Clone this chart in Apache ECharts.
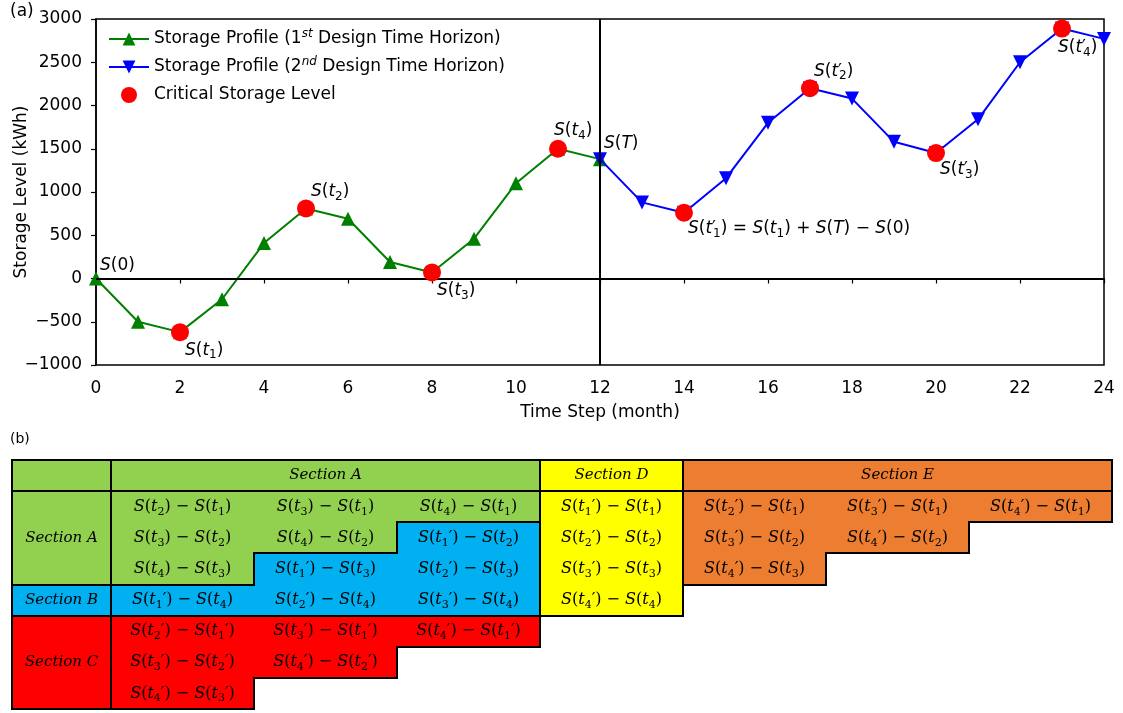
<!DOCTYPE html>
<html>
<head>
<meta charset="utf-8">
<script src="https://cdn.jsdelivr.net/npm/echarts@6/dist/echarts.min.js"></script>
<style>
  html, body { margin: 0; padding: 0; background: #fff; }
  #chart { width: 1123px; height: 713px; }
</style>
</head>
<body>
<div id="chart"></div>
<script>
// ---- (a) storage profile data ----
const months1 = [0, 1, 2, 3, 4, 5, 6, 7, 8, 9, 10, 11, 12];
const storage1 = [0, -500, -620, -240, 410, 810, 690, 190, 70, 460, 1100, 1500, 1380];
const months2 = [12, 13, 14, 15, 16, 17, 18, 19, 20, 21, 22, 23, 24];
const storage2 = [1380, 880, 760, 1160, 1800, 2200, 2080, 1580, 1450, 1840, 2500, 2890, 2770];

const criticalMonths = [2, 5, 8, 11, 14, 17, 20, 23];
// "^" marks a prime stacked over the following subscript
const criticalLabels = ['S(t_1)', 'S(t_2)', 'S(t_3)', 'S(t_4)',
  'S(t^_1) = S(t_1) + S(T) − S(0)', 'S(t^_2)', 'S(t^_3)', 'S(t^_4)'];
const boundaryMonths = [0, 12];
const boundaryLabels = ['S(0)', 'S(T)'];

const seriesNames = ['Storage Profile (1st Design Time Horizon)',
  'Storage Profile (2nd Design Time Horizon)', 'Critical Storage Level'];
const xTicks = [0, 2, 4, 6, 8, 10, 12, 14, 16, 18, 20, 22, 24];

// ---- (b) difference table ----
// column 0 is the row-label column, columns 1..7 hold the differences
const tableRegions = [
  ['hc', 'hA', 'hA', 'hA', 'hD', 'hE', 'hE', 'hE'],
  ['lA', 'A', 'A', 'A', 'D', 'E', 'E', 'E'],
  ['lA', 'A', 'A', 'B', 'D', 'E', 'E', null],
  ['lA', 'A', 'B', 'B', 'D', 'E', null, null],
  ['lB', 'B', 'B', 'B', 'D', null, null, null],
  ['lC', 'C', 'C', 'C', null, null, null, null],
  ['lC', 'C', 'C', null, null, null, null, null],
  ['lC', 'C', null, null, null, null, null, null]
];
const tableText = [
  [null, null, null, null, null, null, null, null],
  [null, 'S(t_2) − S(t_1)', 'S(t_3) − S(t_1)', 'S(t_4) − S(t_1)', 'S(t_1′) − S(t_1)', 'S(t_2′) − S(t_1)', 'S(t_3′) − S(t_1)', 'S(t_4′) − S(t_1)'],
  [null, 'S(t_3) − S(t_2)', 'S(t_4) − S(t_2)', 'S(t_1′) − S(t_2)', 'S(t_2′) − S(t_2)', 'S(t_3′) − S(t_2)', 'S(t_4′) − S(t_2)', null],
  [null, 'S(t_4) − S(t_3)', 'S(t_1′) − S(t_3)', 'S(t_2′) − S(t_3)', 'S(t_3′) − S(t_3)', 'S(t_4′) − S(t_3)', null, null],
  [null, 'S(t_1′) − S(t_4)', 'S(t_2′) − S(t_4)', 'S(t_3′) − S(t_4)', 'S(t_4′) − S(t_4)', null, null, null],
  [null, 'S(t_2′) − S(t_1′)', 'S(t_3′) − S(t_1′)', 'S(t_4′) − S(t_1′)', null, null, null, null],
  [null, 'S(t_3′) − S(t_2′)', 'S(t_4′) − S(t_2′)', null, null, null, null, null],
  [null, 'S(t_4′) − S(t_3′)', null, null, null, null, null, null]
];
const regionTitles = { hA: 'Section A', hD: 'Section D', hE: 'Section E',
  lA: 'Section A', lB: 'Section B', lC: 'Section C' };

// ---- styling ----
const GREEN = '#92d050', BLUE = '#00b0f0', RED = '#ff0000', YELLOW = '#ffff00', ORANGE = '#ed7d31';
const regionColors = { hc: GREEN, hA: GREEN, lA: GREEN, A: GREEN, hD: YELLOW, D: YELLOW,
  hE: ORANGE, E: ORANGE, lB: BLUE, B: BLUE, lC: RED, C: RED };
const labelColWidth = 99 / 143;   // label column width relative to a data column

const SANS = 'DejaVu Sans';
const SERIF = 'DejaVu Serif';

// convert "S(t_1′)" notation into rich-text tokens: letters italic, _x subscript,
// "^" a zero-advance prime so the next subscript sits beneath it
function mathRich(str) {
  const toks = [];
  const push = (style, ch) => {
    const last = toks[toks.length - 1];
    if (last && last.style === style && style !== 'pr') last.text += ch; else toks.push({ style, text: ch });
  };
  for (let i = 0; i < str.length; i++) {
    const ch = str[i];
    if (ch === '_' && i + 1 < str.length) { push('sub', str[i + 1]); i++; }
    else if (ch === '^') push('pr', '′');
    else if (/[A-Za-z]/.test(ch)) push('it', ch);
    else push('n', ch);
  }
  return toks.map(t => '{' + t.style + '|' + t.text + '}').join('');
}

const chartRich = {
  it: { fontFamily: SANS, fontStyle: 'italic', fontSize: 17, lineHeight: 22, color: '#000' },
  n: { fontFamily: SANS, fontSize: 17, lineHeight: 22, color: '#000' },
  pr: { fontFamily: SANS, fontSize: 17, lineHeight: 22, color: '#000', width: 1 },
  sub: { fontFamily: SANS, fontSize: 12, lineHeight: 12, verticalAlign: 'bottom', color: '#000' }
};
const tableRich = {
  it: { fontFamily: SERIF, fontStyle: 'italic', fontSize: 16, lineHeight: 21, color: '#000' },
  n: { fontFamily: SERIF, fontSize: 16, lineHeight: 21, color: '#000' },
  sub: { fontFamily: SERIF, fontSize: 11, lineHeight: 11, verticalAlign: 'bottom', color: '#000' }
};

// label offsets (px) relative to the marker centre
const criticalOffsets = [[5, 18], [5, -17], [5, 18], [-4, -18], [4, 16], [4, -17], [4, 17], [-4, 19]];
const boundaryOffsets = [[4, -13], [4, -16]];

const valueAt = (m) => {
  const i1 = months1.indexOf(m);
  if (i1 >= 0) return storage1[i1];
  return storage2[months2.indexOf(m)];
};

const criticalData = criticalMonths.map((m, i) => ({
  value: [m, valueAt(m)],
  label: { formatter: mathRich(criticalLabels[i]), offset: criticalOffsets[i] }
}));
const boundaryData = boundaryMonths.map((m, i) => ({
  value: [m, valueAt(m)],
  label: { formatter: mathRich(boundaryLabels[i]), offset: boundaryOffsets[i] }
}));

// ---- table cells ----
const cells = [];
tableRegions.forEach((row, r) => row.forEach((reg, c) => { if (reg) cells.push({ c, r, reg }); }));
const regAt = (c, r) => (tableRegions[r] && tableRegions[r][c]) || null;
const colSpan = (c) => c === 0 ? [-labelColWidth, 0] : [c - 1, c];

function cellBox(api, c, r) {
  const [x0, x1] = colSpan(c);
  const p0 = api.coord([x0, r]);
  const p1 = api.coord([x1, r + 1]);
  return { x0: Math.round(p0[0]), y0: Math.round(p0[1]), x1: Math.round(p1[0]), y1: Math.round(p1[1]) };
}

// text items: individual cells and merged region titles
const textItems = [];
tableText.forEach((row, r) => row.forEach((t, c) => {
  if (t) { const [x0, x1] = colSpan(c); textItems.push({ x: (x0 + x1) / 2, y: r + 0.5, text: mathRich(t), title: false }); }
}));
Object.keys(regionTitles).forEach(reg => {
  let xmin = Infinity, xmax = -Infinity, ymin = Infinity, ymax = -Infinity;
  cells.filter(cl => cl.reg === reg).forEach(cl => {
    const [x0, x1] = colSpan(cl.c);
    xmin = Math.min(xmin, x0); xmax = Math.max(xmax, x1);
    ymin = Math.min(ymin, cl.r); ymax = Math.max(ymax, cl.r + 1);
  });
  textItems.push({ x: (xmin + xmax) / 2, y: (ymin + ymax) / 2, text: regionTitles[reg], title: true });
});

const chart = echarts.init(document.getElementById('chart'));

const option = {
  animation: false,
  backgroundColor: '#fff',
  graphic: [
    { type: 'text', left: 10, top: 3, style: { text: '(a)', font: '17px "DejaVu Sans"', fill: '#000' } },
    { type: 'text', left: 10, top: 432, style: { text: '(b)', font: '14px "DejaVu Sans"', fill: '#000' } }
  ],
  legend: {
    data: seriesNames,
    orient: 'vertical',
    left: 103,
    top: 23,
    itemWidth: 40,
    itemHeight: 16,
    itemGap: 6,
    textStyle: {
      fontFamily: SANS, fontSize: 17, color: '#000', lineHeight: 22,
      rich: { sup: { fontFamily: SANS, fontStyle: 'italic', fontSize: 12, lineHeight: 12, verticalAlign: 'top', color: '#000' } }
    },
    formatter: (name) => name.replace(/(\d)(st|nd)/, '$1{sup|$2}')
  },
  grid: [
    { left: 96, right: 19, top: 19, height: 346, show: true, borderColor: '#000', borderWidth: 1.5,
      containLabel: false, outerBoundsMode: 'none' },
    { left: 12, top: 460, width: 1100, height: 249, show: false, containLabel: false, outerBoundsMode: 'none' }
  ],
  xAxis: [
    {
      type: 'value', gridIndex: 0, min: 0, max: 24, interval: 2,
      name: 'Time Step (month)', nameLocation: 'middle', nameGap: 39, nameMoveOverlap: false,
      nameTextStyle: { fontFamily: SANS, fontSize: 17, color: '#000' },
      axisLine: { lineStyle: { color: '#000', width: 1.5 } },
      axisTick: { show: true, inside: false, length: 5, lineStyle: { color: '#000', width: 1.2 } },
      axisLabel: { fontFamily: SANS, fontSize: 17, color: '#000', margin: 15,
        customValues: xTicks },
      splitLine: { show: false }
    },
    { type: 'value', gridIndex: 1, min: -labelColWidth, max: 7, show: false }
  ],
  yAxis: [
    {
      type: 'value', gridIndex: 0, min: -1000, max: 3000, interval: 500,
      name: 'Storage Level (kWh)', nameLocation: 'middle', nameGap: 66, nameMoveOverlap: false,
      nameTextStyle: { fontFamily: SANS, fontSize: 17, color: '#000' },
      axisLine: { show: true, lineStyle: { color: '#000', width: 1.5 } },
      axisTick: { show: true, inside: false, length: 5, lineStyle: { color: '#000', width: 1.2 } },
      axisLabel: { fontFamily: SANS, fontSize: 17, color: '#000', margin: 14,
        formatter: (v) => (v < 0 ? '−' + Math.abs(v) : String(v)) },
      splitLine: { show: false }
    },
    { type: 'value', gridIndex: 1, min: 0, max: 8, inverse: true, show: false }
  ],
  series: [
    {
      name: seriesNames[0], type: 'line', xAxisIndex: 0, yAxisIndex: 0,
      data: months1.map((m, i) => [m, storage1[i]]),
      symbol: 'triangle', symbolSize: 14, showAllSymbol: true,
      lineStyle: { color: '#008000', width: 2 },
      itemStyle: { color: '#008000' },
      z: 3,
      markLine: {
        silent: true, symbol: ['none', 'none'], label: { show: false },
        lineStyle: { color: '#000', width: 2, type: 'solid' },
        data: [{ xAxis: 12 }, { yAxis: 0 }]
      }
    },
    {
      name: seriesNames[1], type: 'line', xAxisIndex: 0, yAxisIndex: 0,
      data: months2.map((m, i) => [m, storage2[i]]),
      symbol: 'triangle', symbolRotate: 180, symbolSize: 14, showAllSymbol: true,
      lineStyle: { color: '#0000ff', width: 2 },
      itemStyle: { color: '#0000ff' },
      z: 4
    },
    {
      name: seriesNames[2], type: 'scatter', xAxisIndex: 0, yAxisIndex: 0,
      data: criticalData,
      symbol: 'circle', symbolSize: 18,
      itemStyle: { color: '#ff0000', opacity: 1 },
      label: { show: true, position: 'inside', align: 'left', verticalAlign: 'middle', color: '#000', rich: chartRich },
      z: 5
    },
    {
      name: 'boundary', type: 'scatter', xAxisIndex: 0, yAxisIndex: 0,
      data: boundaryData, symbolSize: 0, silent: true,
      itemStyle: { opacity: 1 },
      label: { show: true, position: 'inside', align: 'left', verticalAlign: 'middle', color: '#000', rich: chartRich },
      z: 6
    },
    {
      // table fills
      type: 'custom', xAxisIndex: 1, yAxisIndex: 1, silent: true,
      data: cells.map(cl => [colSpan(cl.c)[0], cl.r]),
      renderItem: (params, api) => {
        const cl = cells[params.dataIndex];
        const b = cellBox(api, cl.c, cl.r);
        return { type: 'rect', shape: { x: b.x0, y: b.y0, width: b.x1 - b.x0, height: b.y1 - b.y0 },
          style: { fill: regionColors[cl.reg] } };
      },
      z: 1
    },
    {
      // table borders between differing regions
      type: 'custom', xAxisIndex: 1, yAxisIndex: 1, silent: true,
      data: cells.map(cl => [colSpan(cl.c)[0], cl.r]),
      renderItem: (params, api) => {
        const cl = cells[params.dataIndex];
        const b = cellBox(api, cl.c, cl.r);
        const lines = [];
        const add = (x1, y1, x2, y2) => lines.push({ type: 'line', shape: { x1, y1, x2, y2 },
          style: { stroke: '#000', lineWidth: 2, lineCap: 'square' } });
        if (regAt(cl.c, cl.r - 1) !== cl.reg) add(b.x0, b.y0, b.x1, b.y0);
        if (regAt(cl.c, cl.r + 1) !== cl.reg) add(b.x0, b.y1, b.x1, b.y1);
        if (regAt(cl.c - 1, cl.r) !== cl.reg) add(b.x0, b.y0, b.x0, b.y1);
        if (regAt(cl.c + 1, cl.r) !== cl.reg) add(b.x1, b.y0, b.x1, b.y1);
        return { type: 'group', children: lines };
      },
      z: 2
    },
    {
      // table texts
      type: 'custom', xAxisIndex: 1, yAxisIndex: 1, silent: true,
      data: textItems.map(t => [t.x, t.y]),
      renderItem: (params, api) => {
        const t = textItems[params.dataIndex];
        const p = api.coord([t.x, t.y]);
        const style = t.title
          ? { text: t.text, x: p[0], y: p[1], align: 'center', verticalAlign: 'middle',
              font: 'italic 15px "DejaVu Serif"', fill: '#000' }
          : { text: t.text, x: p[0], y: p[1], align: 'center', verticalAlign: 'middle',
              rich: tableRich, fill: '#000' };
        return { type: 'text', style };
      },
      z: 3
    }
  ]
};

chart.setOption(option);
</script>
</body>
</html>
